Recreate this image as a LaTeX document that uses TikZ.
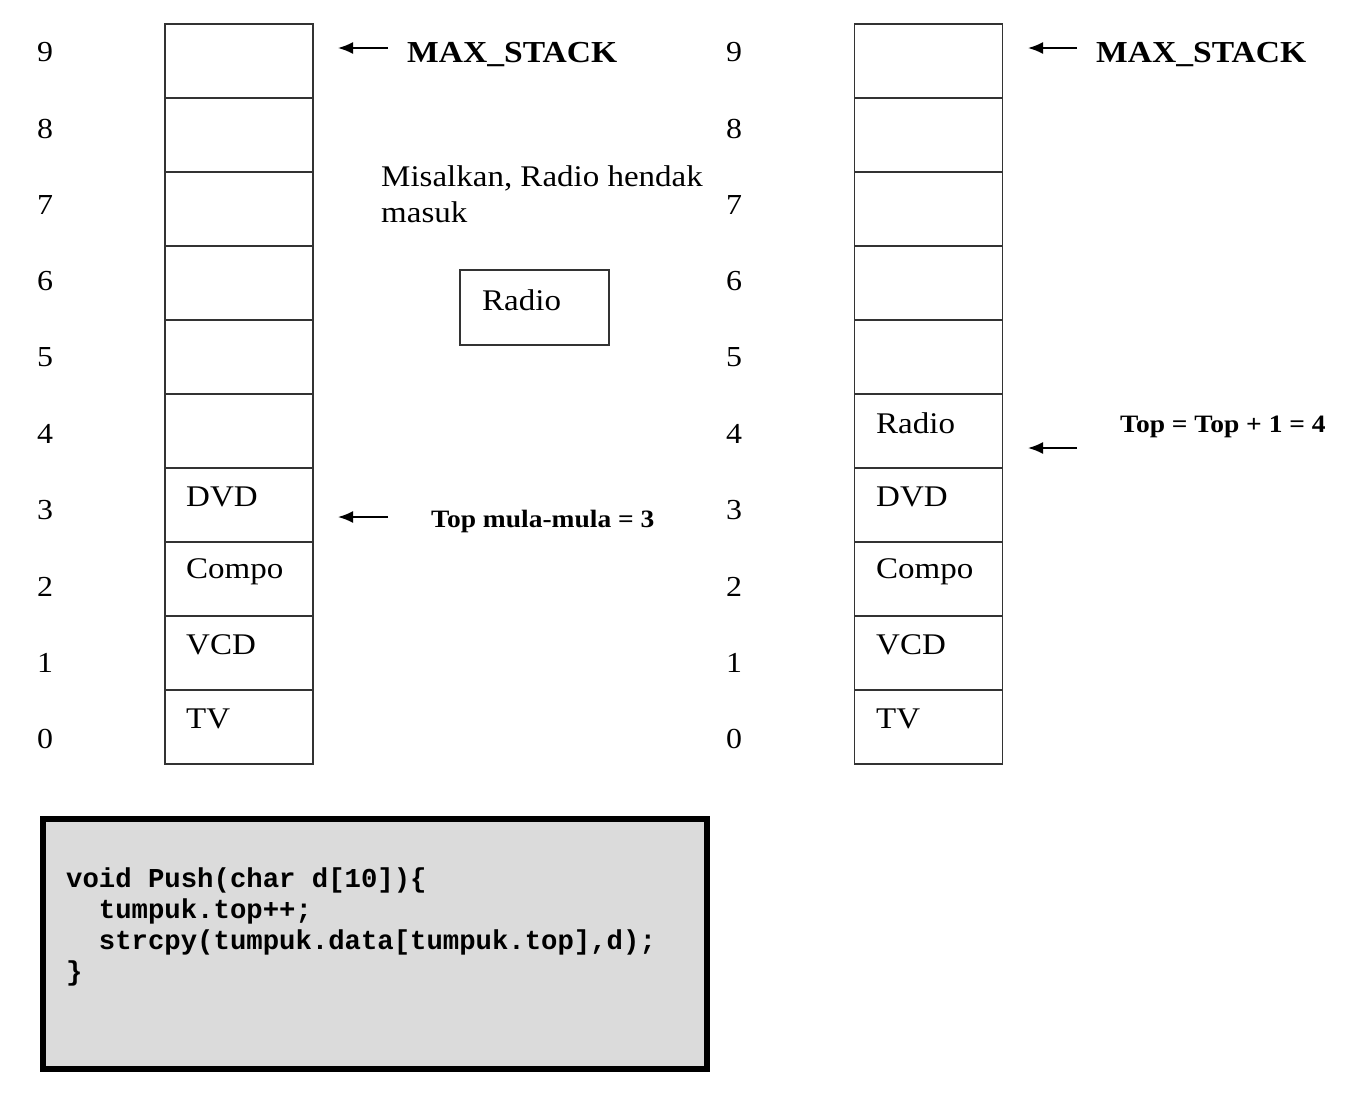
\documentclass[tikz,border=0pt]{standalone}
\usepackage{fontspec}
\setmainfont[FakeStretch=1.1]{Liberation Serif}
\setmonofont{Liberation Mono}
\usetikzlibrary{arrows.meta}
\begin{document}
\begin{tikzpicture}[x=1pt,y=-1pt,
  cell/.style={draw=black!80,line width=1.6pt,minimum width=148pt,minimum height=74pt,inner sep=0pt,outer sep=0pt},
  celltxt/.style={anchor=west,font=\fontsize{30}{30}\selectfont,inner sep=0pt},
  idx/.style={font=\fontsize{29}{29}\selectfont,inner sep=0pt},
  lbl/.style={font=\bfseries\fontsize{25}{25}\selectfont,inner sep=0pt,anchor=west},
  biglbl/.style={font=\bfseries\fontsize{30.5}{31}\selectfont,inner sep=0pt,anchor=west},
  arr/.style={-{Latex[length=15pt,width=12pt]},line width=1.8pt}]
\useasboundingbox (0,0) rectangle (1360,1096);
% stacks and indices
\foreach \i in {0,...,9}{
  \node[cell] (L\i) at (239,{727-74*\i}) {};
  \node[cell] (R\i) at (928.5,{727-74*\i}) {};
  \node[idx] (nl\i) at (45,{739-76.3*\i}) {\i};
  \node[idx] (nr\i) at (734,{739-76.3*\i}) {\i};
}
\node[celltxt] (tL3) at (186,497) {DVD};
\node[celltxt] (tL2) at (186,572) {Compo};
\node[celltxt] (tL1) at (186,645) {VCD};
\node[celltxt] (tL0) at (186,719) {TV};
\node[celltxt] (tR4) at (876,423) {Radio};
\node[celltxt] (tR3) at (876,497) {DVD};
\node[celltxt] (tR2) at (876,572) {Compo};
\node[celltxt] (tR1) at (876,645) {VCD};
\node[celltxt] (tR0) at (876,719) {TV};
% labels and arrows
\node[biglbl] (maxL) at (407,55) {MAX\_STACK};
\node[biglbl] (maxR) at (1096,55) {MAX\_STACK};
\coordinate (aL1s) at (388,48); \coordinate (aL1e) at (338,48);
\coordinate (aR1s) at (1077,48); \coordinate (aR1e) at (1028,48);
\coordinate (aL2s) at (388,517); \coordinate (aL2e) at (338,517);
\coordinate (aR2s) at (1077,448); \coordinate (aR2e) at (1028,448);
\draw[arr] (aL1s) -- (aL1e);
\draw[arr] (aR1s) -- (aR1e);
\draw[arr] (aL2s) -- (aL2e);
\draw[arr] (aR2s) -- (aR2e);
\node[lbl] (topL) at (431,521) {Top mula-mula = 3};
\node[lbl] (topR) at (1120,427) {Top = Top + 1 = 4};
\node[anchor=north west,align=left,inner sep=0pt,font=\fontsize{30}{36}\selectfont] (misal) at (381,165) {Misalkan, Radio hendak\\masuk};
\node[cell,minimum width=149pt,minimum height=75pt] (radio) at (534.5,307.5) {};
\node[celltxt] (radiot) at (482,300) {Radio};
% code box
\node[draw=black,line width=6pt,fill=black!14,minimum width=664pt,minimum height=250pt,inner sep=0pt] (code) at (375,944) {};
\node[anchor=north west,align=left,inner sep=0pt,font=\ttfamily\bfseries\fontsize{27.3}{31}\selectfont] (codet) at (66,868) {void Push(char d[10])\{\\
\ \ tumpuk.top++;\\
\ \ strcpy(tumpuk.data[tumpuk.top],d);\\
\}};
\end{tikzpicture}
\end{document}
